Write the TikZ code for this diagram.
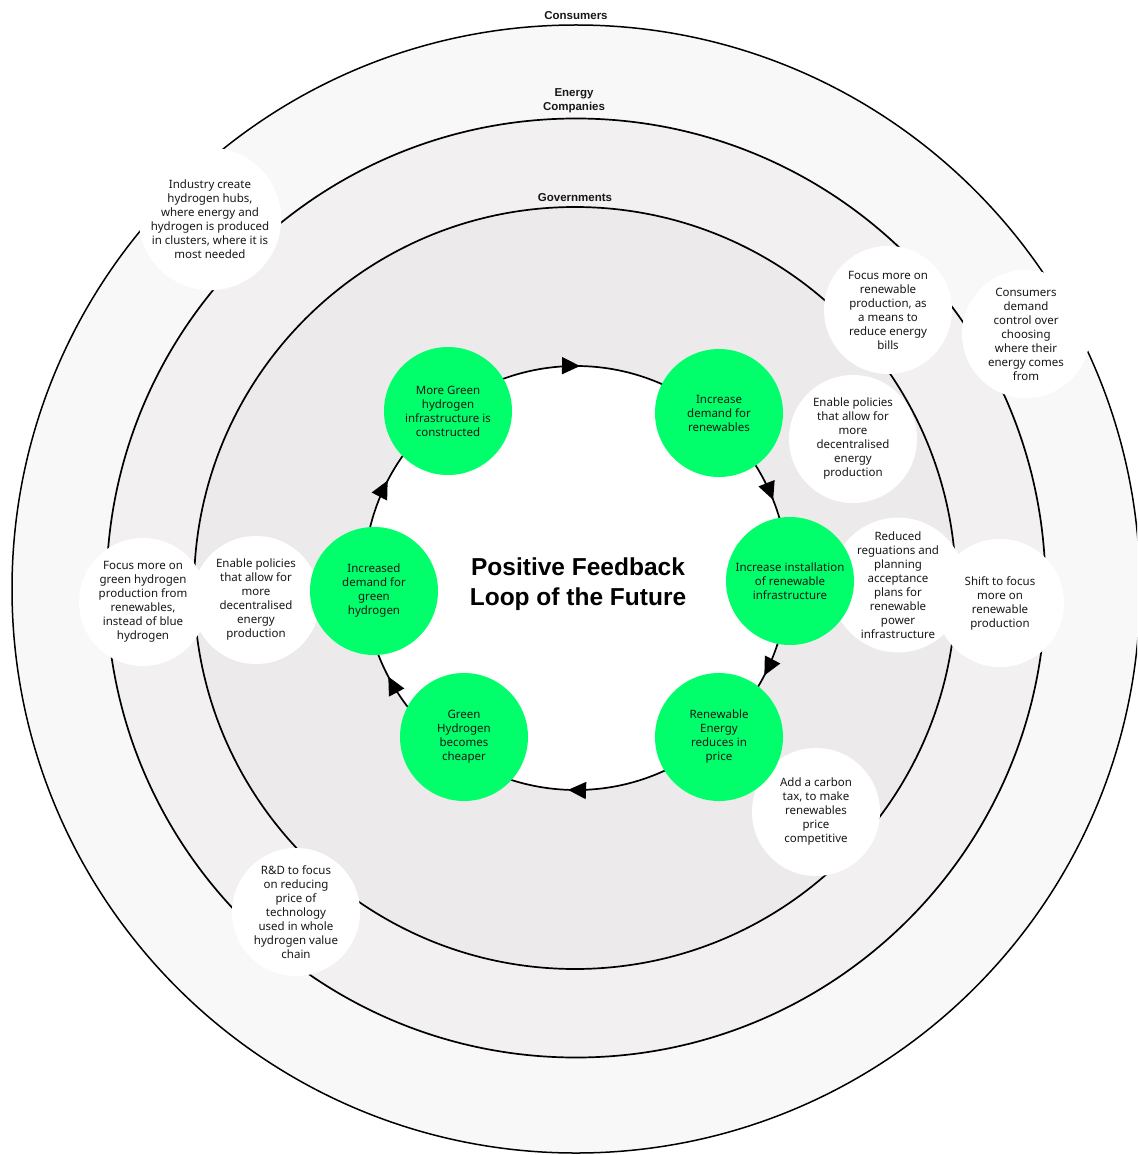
\documentclass[tikz,border=0pt]{standalone}
\usepackage{fontspec}
\setmainfont{Noto Sans}
\newfontfamily\headfont{Liberation Sans}

\usetikzlibrary{arrows.meta,decorations.markings}

\definecolor{ringout}{RGB}{249,248,249}
\definecolor{ringmid}{RGB}{242,240,241}
\definecolor{ringin}{RGB}{237,234,235}
\definecolor{loopgreen}{RGB}{0,255,106}
\definecolor{inkdark}{RGB}{24,24,24}

\begin{document}
\begin{tikzpicture}[x=1pt,y=-1pt,
  ring/.style={draw=black, line width=1.7pt},
  stage/.style={circle, fill=loopgreen, minimum size=128pt, inner sep=0pt,
    align=center, text=inkdark, font=\fontsize{11.5}{14}\selectfont},
  bubble/.style={circle, fill=white, minimum size=128pt, inner sep=0pt,
    align=center, text=inkdark, font=\fontsize{11.5}{14}\selectfont},
  tier/.style={align=center, text=inkdark, font=\headfont\bfseries\fontsize{11.5}{14}\selectfont},
  loophead/.tip={Triangle[length=18pt,width=17pt]}
]
\useasboundingbox (0,0) rectangle (1137,1155);
\fill[white] (0,0) rectangle (1137,1155);
\clip (0,0) rectangle (1137,1155);

% stakeholder rings
\coordinate (outerc) at (576,589);
\coordinate (midc) at (576,588);
\coordinate (innerc) at (575,588);
\coordinate (loopc) at (576,578);

\filldraw[ring, fill=ringout, line width=1.5pt] (outerc) circle[radius=564];
\filldraw[ring, fill=ringmid] (midc) circle[radius=469.5];
\filldraw[ring, fill=ringin] (innerc) circle[radius=381];

% feedback loop with clockwise arrow heads
\filldraw[ring, fill=white, postaction={decorate}, decoration={markings,
    mark=at position 0.076 with {\arrow{loophead}},
    mark=at position 0.256 with {\arrow{loophead}},
    mark=at position 0.423 with {\arrow{loophead}},
    mark=at position 0.576 with {\arrow{loophead}},
    mark=at position 0.753 with {\arrow{loophead}},
    mark=at position 0.940 with {\arrow{loophead}}}]
  (loopc) ++(0:212) arc[start angle=0, end angle=360, radius=212];

% ring labels
\node[tier] (consumers) at (576,16) {Consumers};
\node[tier] (companies) at (574,101) {Energy\\Companies};
\node[tier] (governments) at (575,198) {Governments};

% actions of each stakeholder
\node[bubble] (hubs) at (210,219) {Industry create\\hydrogen hubs,\\where energy and\\hydrogen is produced\\in clusters, where it is\\most needed};
\node[bubble] (bills) at (888,310) {Focus more on\\renewable\\production, as\\a means to\\reduce energy\\bills};
\node[bubble] (choice) at (1026,334) {Consumers\\demand\\control over\\choosing\\where their\\energy comes\\from};
\node[bubble] (policyr) at (853,439) {Enable policies\\that allow for\\more\\decentralised\\energy\\production};
\node[bubble] (shift) at (1000,603) {Shift to focus\\more on\\renewable\\production};
\node[bubble] (regs) at (898,585) {Reduced\\reguations and\\planning\\acceptance\\plans for\\renewable\\power\\infrastructure};
\node[bubble] (greenh) at (143,602) {Focus more on\\green hydrogen\\production from\\renewables,\\instead of blue\\hydrogen};
\node[bubble] (policyl) at (256,600) {Enable policies\\that allow for\\more\\decentralised\\energy\\production};
\node[bubble] (carbon) at (816,812) {Add a carbon\\tax, to make\\renewables\\price\\competitive};
\node[bubble] (rnd) at (296,912) {R\&D to focus\\on reducing\\price of\\technology\\used in whole\\hydrogen value\\chain};

% stages of the loop
\node[stage] (infra) at (448,411) {More Green\\hydrogen\\infrastructure is\\constructed};
\node[stage] (demandr) at (719,413) {Increase\\demand for\\renewables};
\node[stage] (install) at (790,581) {Increase installation\\of renewable\\infrastructure};
\node[stage] (price) at (719,737) {Renewable\\Energy\\reduces in\\price};
\node[stage] (cheaper) at (464,737) {Green\\Hydrogen\\becomes\\cheaper};
\node[stage] (demandh) at (374,591) {Increased\\demand for\\green\\hydrogen};

% title
\node[align=center, text=black, font=\headfont\bfseries\fontsize{24.5}{30}\selectfont] (title) at (578,584) {Positive Feedback\\Loop of the Future};
\end{tikzpicture}
\end{document}
